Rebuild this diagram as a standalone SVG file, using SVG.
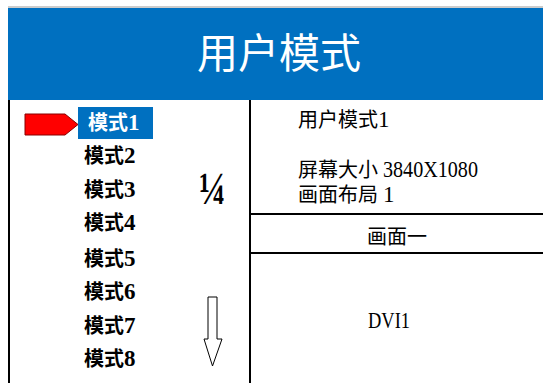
<svg xmlns="http://www.w3.org/2000/svg" width="543" height="383" viewBox="0 0 543 383">
<style>
.t{font-family:'Liberation Serif','Noto Sans CJK SC',serif;font-size:20px;fill:#000}
.b{font-weight:bold}
.l{font-size:23px}
.ln{stroke:#000;stroke-width:2;fill:none}
</style>
<rect x="0" y="0" width="543" height="383" fill="#fff"/>
<line x1="8" y1="7" x2="543" y2="7" stroke="#999" stroke-width="1"/>
<g id="header">
<rect x="8" y="8" width="535" height="92" fill="#0070C0"/>
<text x="279" y="68" text-anchor="middle" font-family="'Noto Sans CJK SC',sans-serif" font-size="41" fill="#fff">用户模式</text>
</g>
<g id="frame">
<line class="ln" x1="9" y1="100" x2="9" y2="383"/>
<line class="ln" x1="250" y1="100" x2="250" y2="383"/>
<line class="ln" x1="250" y1="214" x2="543" y2="214"/>
<line class="ln" x1="250" y1="253" x2="543" y2="253"/>
</g>
<g id="pointer">
<polygon points="25,114 65,114 78,124.5 65,135 25,135" fill="#f00" stroke="#800" stroke-width="1"/>
</g>
<g id="mode-list">
<rect x="78" y="107" width="75" height="32" fill="#0070C0"/>
<text class="t b" x="88" y="130" style="fill:#fff">模式<tspan class="l">1</tspan></text>
<text class="t b" x="84" y="163">模式<tspan class="l">2</tspan></text>
<text class="t b" x="84" y="197">模式<tspan class="l">3</tspan></text>
<text class="t b" x="84" y="230">模式<tspan class="l">4</tspan></text>
<text class="t b" x="84" y="266">模式<tspan class="l">5</tspan></text>
<text class="t b" x="84" y="299">模式<tspan class="l">6</tspan></text>
<text class="t b" x="84" y="333">模式<tspan class="l">7</tspan></text>
<text class="t b" x="84" y="366">模式<tspan class="l">8</tspan></text>
</g>
<g id="page">
<text x="199" y="204" font-family="'Liberation Serif',serif" font-weight="bold" font-size="46" textLength="27" lengthAdjust="spacingAndGlyphs">¼</text>
</g>
<g id="scroll-arrow">
<polygon points="208,297 217,297 217,339 222,339 212.5,366 204,339 208,339" fill="#fff" stroke="#000" stroke-width="1"/>
</g>
<g id="info">
<text class="t" x="298" y="127">用户模式<tspan class="l">1</tspan></text>
<text class="t" x="298" y="177">屏幕大小 <tspan class="l" textLength="95" lengthAdjust="spacingAndGlyphs">3840X1080</tspan></text>
<text class="t" x="298" y="202">画面布局 <tspan class="l">1</tspan></text>
</g>
<g id="screen-name">
<text class="t" x="397" y="244" text-anchor="middle">画面一</text>
</g>
<g id="source">
<text class="t l" x="368" y="328" textLength="42" lengthAdjust="spacingAndGlyphs">DVI1</text>
</g>
</svg>
